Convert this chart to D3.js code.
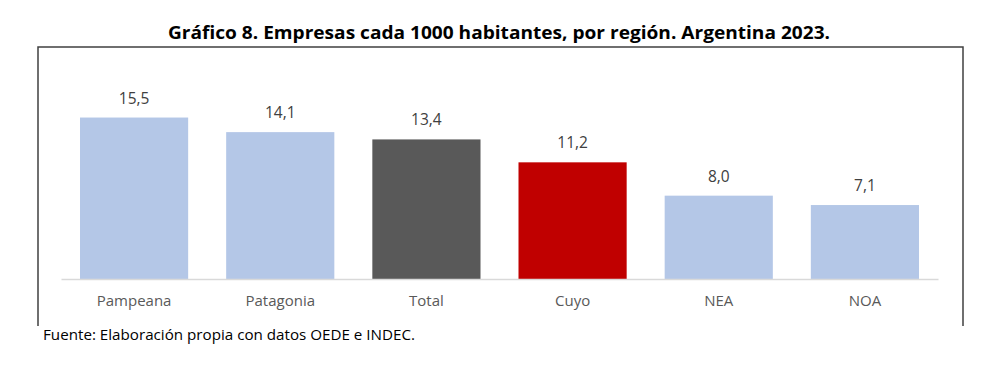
<!DOCTYPE html>
<html><head><meta charset="utf-8">
<script src="https://cdn.jsdelivr.net/npm/d3@7"></script>
<style>body{margin:0;background:#fff}</style>
</head><body>
<script>
const categories = ["Pampeana","Patagonia","Total","Cuyo","NEA","NOA"];
const values = [15.5,14.1,13.4,11.2,8.0,7.1];
const colors = ["#b4c7e7","#b4c7e7","#595959","#c00000","#b4c7e7","#b4c7e7"];
const titleText = "Gráfico 8. Empresas cada 1000 habitantes, por región. Argentina 2023.";
const sourceText = "Fuente: Elaboración propia con datos OEDE e INDEC.";

const W=1000,H=368;
const svg=d3.select("body").append("svg").attr("width",W).attr("height",H);
const font="'Open Sans', sans-serif";

svg.append("text").attr("x",499).attr("y",39).attr("text-anchor","middle")
  .attr("font-family",font).attr("font-weight","bold").attr("font-size",17)
  .attr("fill","#000").attr("textLength",662).attr("lengthAdjust","spacingAndGlyphs").text(titleText);

// frame (top, left, right)
svg.append("path").attr("d","M38,326 V47 H963 V326").attr("fill","none").attr("stroke","#404040").attr("stroke-width",1.5);

const x=d3.scaleBand().domain(categories).range([61,938]).paddingInner(0.26).paddingOuter(0.13);
const y=d3.scaleLinear().domain([0,18]).range([279,91.5]);

svg.selectAll("rect.bar").data(values).join("rect").attr("class","bar")
  .attr("x",(d,i)=>x(categories[i])).attr("width",x.bandwidth())
  .attr("y",d=>y(d)).attr("height",d=>y(0)-y(d)).attr("fill",(d,i)=>colors[i]);

const ax=svg.append("g").attr("transform","translate(0,279)").call(d3.axisBottom(x).tickSize(0).tickPadding(16));
ax.select(".domain").attr("stroke","#d9d9d9").attr("stroke-width",1.5);
ax.selectAll("text").attr("font-family",font).attr("font-size",15).attr("fill","#595959");

svg.selectAll("text.lbl").data(values).join("text").attr("class","lbl")
  .attr("x",(d,i)=>x(categories[i])+x.bandwidth()/2).attr("y",d=>y(d)-14)
  .attr("text-anchor","middle").attr("font-family",font).attr("font-size",15.5).attr("fill","#404040")
  .text(d=>d3.format(".1f")(d).replace(".",","));

svg.append("text").attr("x",43).attr("y",340).attr("font-family",font).attr("font-size",14)
  .attr("fill","#000").attr("textLength",372).attr("lengthAdjust","spacingAndGlyphs").text(sourceText);
</script>
</body></html>
